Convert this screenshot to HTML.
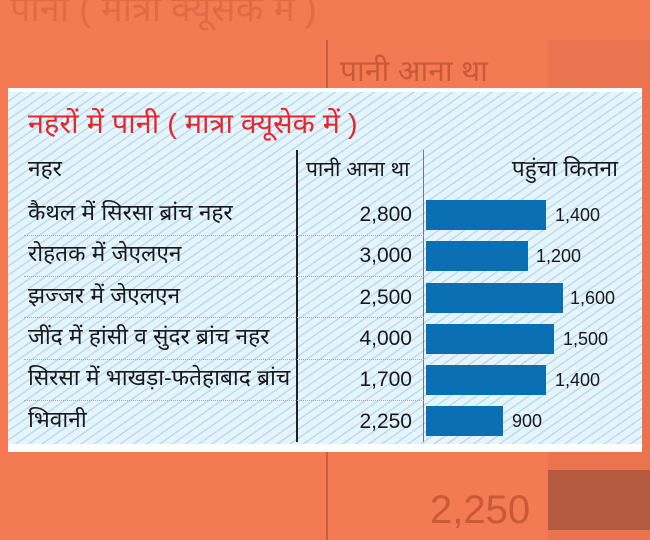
<!DOCTYPE html>
<html><head><meta charset="utf-8"><style>
body{margin:0;width:650px;height:540px;overflow:hidden;background:#f37a53;position:relative;font-family:"Liberation Sans","Noto Sans Devanagari",sans-serif}
.abs{position:absolute}
.card{left:8px;top:88px;width:634px;height:364px;background:#fff}
.hatch{left:8px;top:92px;width:634px;height:352px;background:repeating-linear-gradient(-35deg,#e6f4fc 0 6px,#b9dcf2 6px 7.5px)}
.t{position:absolute;color:#1a1a1a;font-size:20px;white-space:nowrap}
.l{font-size:22px;transform:scaleX(1.03);transform-origin:left center}
.bar{position:absolute;left:426px;height:30px;background:#0a6fb3}
.dot{position:absolute;left:24px;width:400px;border-top:1px dotted #aaa}
</style></head><body>
<div class="abs" style="left:10px;top:-12px;color:#d8603c;font-size:36px;opacity:.6">पानी ( मात्रा क्यूसेक में )</div>
<div class="abs" style="left:326px;top:40px;width:2px;height:500px;background:#c95e3c"></div>
<div class="abs" style="left:548px;top:40px;width:102px;height:500px;background:#ea744f"></div>
<div class="abs" style="left:548px;top:470px;width:102px;height:60px;background:#b35a40"></div>
<div class="abs" style="left:430px;top:488px;color:#c85a3a;font-size:40px">2,250</div>
<div class="abs" style="left:340px;top:55px;color:#c85a3a;font-size:30px">पानी आना था</div>
<div class="abs card"></div>
<div class="abs hatch"></div>
<div class="t" style="left:28px;top:108px;color:#e8252b;font-size:28px;transform:scaleX(1.03);transform-origin:left">नहरों में पानी ( मात्रा क्यूसेक में )</div>
<div class="abs" style="left:296px;top:150px;width:2px;height:292px;background:#222"></div>
<div class="abs" style="left:423px;top:150px;width:1px;height:292px;background:#777"></div>
<div class="t l" style="left:28px;top:156px">नहर</div>
<div class="t" style="left:306px;top:157px;font-size:21px">पानी आना था</div>
<div class="t l" style="right:32px;top:156px;transform-origin:right center">पहुंचा कितना</div>
<div class="dot" style="top:235px"></div><div class="dot" style="top:276px"></div><div class="dot" style="top:317px"></div><div class="dot" style="top:359px"></div><div class="dot" style="top:400px"></div>
<div class="t l" style="left:28px;top:200px">कैथल में सिरसा ब्रांच नहर</div>
<div class="t l" style="left:28px;top:241px">रोहतक में जेएलएन</div>
<div class="t l" style="left:28px;top:283px">झज्जर में जेएलएन</div>
<div class="t l" style="left:28px;top:324px">जींद में हांसी व सुंदर ब्रांच नहर</div>
<div class="t l" style="left:28px;top:365px">सिरसा में भाखड़ा-फतेहाबाद ब्रांच</div>
<div class="t l" style="left:28px;top:407px">भिवानी</div>
<div class="t" style="right:238px;top:203px;font-size:21px">2,800</div>
<div class="t" style="right:238px;top:244px;font-size:21px">3,000</div>
<div class="t" style="right:238px;top:286px;font-size:21px">2,500</div>
<div class="t" style="right:238px;top:327px;font-size:21px">4,000</div>
<div class="t" style="right:238px;top:368px;font-size:21px">1,700</div>
<div class="t" style="right:238px;top:410px;font-size:21px">2,250</div>
<div class="bar" style="top:200px;width:120px"></div>
<div class="bar" style="top:241px;width:102px"></div>
<div class="bar" style="top:283px;width:137px"></div>
<div class="bar" style="top:324px;width:128px"></div>
<div class="bar" style="top:365px;width:120px"></div>
<div class="bar" style="top:406px;width:77px"></div>
<div class="t" style="left:555px;top:205px;font-size:18px">1,400</div>
<div class="t" style="left:536px;top:246px;font-size:18px">1,200</div>
<div class="t" style="left:570px;top:288px;font-size:18px">1,600</div>
<div class="t" style="left:563px;top:329px;font-size:18px">1,500</div>
<div class="t" style="left:555px;top:370px;font-size:18px">1,400</div>
<div class="t" style="left:512px;top:411px;font-size:18px">900</div>
</body></html>
